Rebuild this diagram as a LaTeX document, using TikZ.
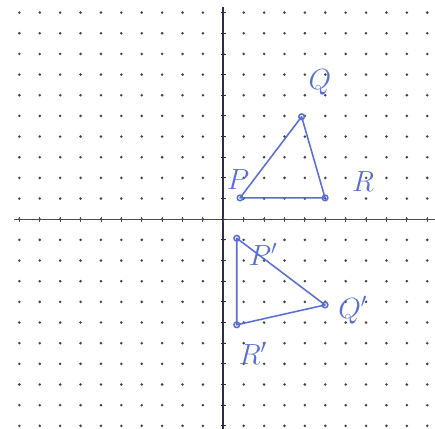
\documentclass[tikz,border=0pt]{standalone}
\usetikzlibrary{arrows.meta}

\definecolor{penblue}{RGB}{88,110,214}
\definecolor{axisnavy}{RGB}{45,45,75}

\tikzset{
  pen/.style={penblue, line width=1.1pt, line cap=round, line join=round},
  penlabel/.style={text=penblue, font=\huge, inner sep=0pt},
  griddot/.style={black!75},
  tick/.style={line width=0.6pt}
}

\begin{document}
\begin{tikzpicture}[x=0.51cm, y=0.5167cm]

% Size of the dotted sheet
\useasboundingbox (-10.95,-10.15) rectangle (10.38,10.61);

% Dot grid
\foreach \i in {-10,...,10}
  \foreach \j in {-10,...,10}
    \fill[griddot] (\i,\j) circle (1pt);

% Axes
\draw[axisnavy, line width=1.4pt]
    (0,-10.15) -- (0,10.27);
\draw[black!70, line width=1pt]
    (-10.26,0) -- (10.38,0);

% Ticks on the axes
\foreach \k in {-10,...,10} {
  \draw[tick, black!70] (\k,-0.12) -- (\k,0.12);
  \draw[tick, axisnavy] (-0.12,\k) -- (0.12,\k);
}

% Triangle PQR
\coordinate (P) at (0.82,1.03);
\coordinate (Q) at (3.84,4.96);
\coordinate (R) at (4.99,1.03);

\draw[pen]
    (P) -- (Q) -- (R) -- cycle;
\draw[pen] (P) circle (2pt);
\draw[pen] (Q) circle (2pt);
\draw[pen] (R) circle (2pt);

% Turned image P'Q'R'
\coordinate (Pimg) at (0.66,-0.92);
\coordinate (Qimg) at (4.99,-4.15);
\coordinate (Rimg) at (0.66,-5.11);

\draw[pen]
    (Pimg) -- (Qimg) -- (Rimg) -- cycle;
\draw[pen] (Pimg) circle (2pt);
\draw[pen] (Qimg) circle (2pt);
\draw[pen] (Rimg) circle (2pt);

% Vertex labels
\node[penlabel] (labelP) at (0.72,1.9) {$P$};
\node[penlabel] (labelQ) at (4.74,6.6) {$Q$};
\node[penlabel] (labelR) at (6.85,1.82) {$R$};

\node[penlabel] (labelPimg) at (1.95,-1.7) {$P'$};
\node[penlabel] (labelQimg) at (6.35,-4.4) {$Q'$};
\node[penlabel] (labelRimg) at (1.45,-6.5) {$R'$};

\end{tikzpicture}
\end{document}
